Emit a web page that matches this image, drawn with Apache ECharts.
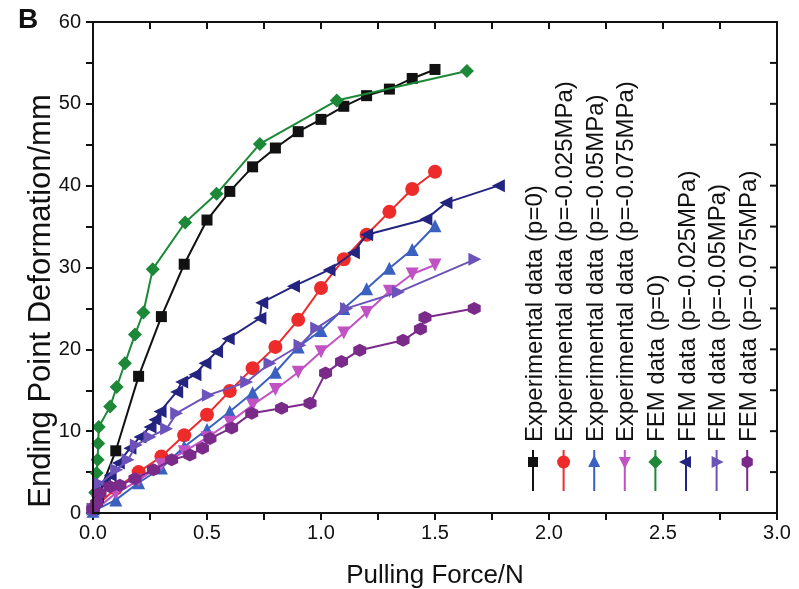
<!DOCTYPE html>
<html>
<head>
<meta charset="utf-8">
<script src="https://cdn.jsdelivr.net/npm/echarts@6/dist/echarts.min.js"></script>
<style>
  html, body { margin: 0; padding: 0; background: #fff; }
  #chart { width: 799px; height: 589px; }
</style>
</head>
<body>
<div id="chart"></div>
<script>
// data: [pulling force (N), deformation (mm)]
const expP0 = [[0, 0.5], [0.1, 7.6], [0.2, 16.7], [0.3, 24.0], [0.4, 30.4], [0.5, 35.8], [0.6, 39.3], [0.7, 42.3],
  [0.8, 44.6], [0.9, 46.6], [1.0, 48.1], [1.1, 49.7], [1.2, 51.0], [1.3, 51.8], [1.4, 53.1], [1.5, 54.2]]
const expP025 = [[0, 0.5], [0.1, 3.0], [0.2, 5.0], [0.3, 6.9], [0.4, 9.5], [0.5, 12.0], [0.6, 14.9], [0.7, 17.7],
  [0.8, 20.3], [0.9, 23.6], [1.0, 27.5], [1.1, 31.0], [1.2, 34.0], [1.3, 36.8], [1.4, 39.6], [1.5, 41.7]]
const expP05 = [[0, 0.2], [0.1, 1.6], [0.2, 3.7], [0.3, 5.5], [0.4, 8.1], [0.5, 10.2], [0.6, 12.4], [0.7, 14.7],
  [0.8, 17.2], [0.9, 20.3], [1.0, 22.3], [1.1, 25.0], [1.2, 27.4], [1.3, 29.9], [1.4, 32.2], [1.5, 35.1]]
const expP075 = [[0, 0.2], [0.1, 2.4], [0.2, 4.0], [0.3, 5.9], [0.4, 7.5], [0.5, 9.2], [0.6, 11.1], [0.7, 13.2],
  [0.8, 15.1], [0.9, 17.2], [1.0, 19.7], [1.1, 22.0], [1.2, 24.5], [1.3, 27.1], [1.4, 29.2], [1.5, 30.3]]
const femP0 = [[0, 0.5], [0.01, 2.5], [0.016, 4.9], [0.02, 6.5], [0.023, 8.5], [0.025, 10.5], [0.075, 13.0],
  [0.104, 15.4], [0.14, 18.3], [0.184, 21.8], [0.221, 24.5], [0.262, 29.8], [0.404, 35.5], [0.542, 39.0],
  [0.732, 45.1], [1.069, 50.4], [1.64, 54.0]]
const femP025 = [[0, 0.5], [0.02, 2.0], [0.05, 3.6], [0.075, 4.6], [0.111, 6.1], [0.162, 7.9], [0.206, 9.3],
  [0.25, 10.5], [0.272, 11.4], [0.294, 12.4], [0.367, 14.8], [0.389, 16.0], [0.447, 16.9], [0.491, 18.3],
  [0.542, 19.7], [0.593, 21.3], [0.732, 23.8], [0.74, 25.7], [0.879, 27.7], [1.035, 29.7], [1.142, 31.8],
  [1.2, 34.0], [1.46, 35.9], [1.548, 37.9], [1.778, 40.0]]
const femP05 = [[0, 0.5], [0.031, 3.6], [0.104, 5.3], [0.154, 6.5], [0.19, 8.3], [0.25, 9.3], [0.323, 10.3],
  [0.367, 12.2], [0.506, 14.4], [0.674, 16.0], [0.776, 18.3], [0.908, 20.5], [0.981, 22.6], [1.112, 25.0],
  [1.34, 27.0], [1.675, 31.0]]
const femP075 = [[0, 0.5], [0.016, 1.2], [0.031, 2.4], [0.075, 3.2], [0.118, 3.4], [0.184, 4.2], [0.265, 5.3],
  [0.345, 6.5], [0.425, 7.1], [0.48, 7.9], [0.513, 9.1], [0.608, 10.4], [0.696, 12.2], [0.827, 12.8],
  [0.952, 13.4], [1.02, 17.1], [1.09, 18.5], [1.17, 19.9], [1.36, 21.1], [1.436, 22.5], [1.456, 23.9],
  [1.672, 25.0]]

const names = ['Experimental data (p=0)', 'Experimental data (p=-0.025MPa)', 'Experimental data (p=-0.05MPa)',
  'Experimental data (p=-0.075MPa)', 'FEM data (p=0)', 'FEM data (p=-0.025MPa)', 'FEM data (p=-0.05MPa)',
  'FEM data (p=-0.075MPa)']
const seriesData = [expP0, expP025, expP05, expP075, femP0, femP025, femP05, femP075]
const colors = ['#111111', '#ee2b2b', '#3a60c0', '#c052c4', '#1c8838', '#23247f', '#6b53b9', '#7a2a88']

// tick values of the mirrored top / right frame
const topTicks = [0, 0.25, 0.5, 0.75, 1, 1.25, 1.5, 1.75, 2, 2.25, 2.5, 2.75, 3]
const rightTicks = [0, 5, 10, 15, 20, 25, 30, 35, 40, 45, 50, 55, 60]

const hexagon = 'path://M0,-10L8.66,-5L8.66,5L0,10L-8.66,5L-8.66,-5Z'
const symbols = ['rect', 'circle', 'triangle', 'triangle', 'diamond', 'triangle', 'triangle', hexagon]
const rotates = [0, 0, 0, 180, 0, 90, -90, 0]
const sizes = [11, 14, 13, 13, 14, 13, 13, 13]

const font = 'Liberation Sans, Arial, sans-serif'

// plot box (pixels)
const gLeft = 93, gTop = 22, gRight = 22, gBottom = 76
const W = 799, H = 589
const boxW = W - gLeft - gRight
const boxH = H - gTop - gBottom

let chart = echarts.init(document.getElementById('chart'))

// frame on top / right with inward ticks
let frame = [{
  type: 'rect', z: 100,
  shape: { x: gLeft, y: gTop, width: boxW, height: boxH },
  style: { fill: 'none', stroke: '#111', lineWidth: 2 }
}]
topTicks.forEach(v => {
  let x = gLeft + v / 3 * boxW
  frame.push({ type: 'line', z: 100, shape: { x1: x, y1: gTop, x2: x, y2: gTop + 7 }, style: { stroke: '#111', lineWidth: 2 } })
})
rightTicks.forEach(v => {
  let y = gTop + boxH - v / 60 * boxH
  frame.push({ type: 'line', z: 100, shape: { x1: gLeft + boxW, y1: y, x2: gLeft + boxW - 7, y2: y }, style: { stroke: '#111', lineWidth: 2 } })
})

// rotated legend drawn as graphic elements
let legendItems = []
names.forEach((name, i) => {
  let cx = 533 + i * 30.6
  let c = colors[i]
  legendItems.push({
    type: 'line', shape: { x1: cx, y1: 450, x2: cx, y2: 491 }, style: { stroke: c, lineWidth: 2 }
  })
  let s = 6
  let shape
  if (i === 0) shape = { type: 'rect', shape: { x: cx - 5, y: 457, width: 10, height: 10 } }
  else if (i === 1) shape = { type: 'circle', shape: { cx: cx, cy: 462, r: 6.5 } }
  else if (i === 2) shape = { type: 'polygon', shape: { points: [[cx, 462 - s - 1], [cx + s, 462 + s - 1], [cx - s, 462 + s - 1]] } }
  else if (i === 3) shape = { type: 'polygon', shape: { points: [[cx, 462 + s + 1], [cx + s, 462 - s + 1], [cx - s, 462 - s + 1]] } }
  else if (i === 4) shape = { type: 'polygon', shape: { points: [[cx, 455], [cx + 7, 462], [cx, 469], [cx - 7, 462]] } }
  else if (i === 5) shape = { type: 'polygon', shape: { points: [[cx - s - 1, 462], [cx + s - 1, 462 - s], [cx + s - 1, 462 + s]] } }
  else if (i === 6) shape = { type: 'polygon', shape: { points: [[cx + s + 1, 462], [cx - s + 1, 462 - s], [cx - s + 1, 462 + s]] } }
  else shape = { type: 'polygon', shape: { points: [[cx, 455.5], [cx + 5.6, 458.7], [cx + 5.6, 465.3], [cx, 468.5], [cx - 5.6, 465.3], [cx - 5.6, 458.7]] } }
  shape.style = { fill: c }
  legendItems.push(shape)
  legendItems.push({
    type: 'text',
    x: cx + 2,
    y: 442,
    rotation: Math.PI / 2,
    style: {
      text: name, fill: '#111', font: '24px ' + font,
      textAlign: 'left', textVerticalAlign: 'middle'
    }
  })
})

chart.setOption({
  animation: false,
  grid: { left: gLeft, right: gRight, top: gTop, bottom: gBottom, outerBoundsMode: 'none' },
  xAxis: {
    type: 'value', min: 0, max: 3, interval: 0.5,
    name: 'Pulling Force/N', nameLocation: 'middle', nameGap: 50,
    nameTextStyle: { fontSize: 26, color: '#111', fontFamily: font },
    axisLine: { show: true, onZero: false, lineStyle: { color: '#111', width: 2 } },
    axisTick: { show: true, inside: false, length: 7, lineStyle: { width: 2, color: '#111' } },
    minorTick: { show: true, splitNumber: 2, length: 7, lineStyle: { width: 2, color: '#111' } },
    axisLabel: { fontSize: 20, color: '#111', fontFamily: font, margin: 10, formatter: v => v.toFixed(1) },
    splitLine: { show: false }
  },
  yAxis: {
    type: 'value', min: 0, max: 60, interval: 10,
    axisLine: { show: true, onZero: false, lineStyle: { color: '#111', width: 2 } },
    axisTick: { show: true, inside: false, length: 7, lineStyle: { width: 2, color: '#111' } },
    minorTick: { show: true, splitNumber: 2, length: 7, lineStyle: { width: 2, color: '#111' } },
    axisLabel: { fontSize: 20, color: '#111', fontFamily: font, margin: 12 },
    splitLine: { show: false }
  },
  series: names.map((name, i) => ({
    name: name,
    type: 'line',
    data: seriesData[i],
    symbol: symbols[i],
    symbolSize: sizes[i],
    symbolRotate: rotates[i],
    showAllSymbol: true,
    lineStyle: { color: colors[i], width: 2 },
    itemStyle: { color: colors[i] },
    z: 2 + i
  })),
  graphic: [
    { type: 'text', x: 18, y: 6, style: { text: 'B', font: 'bold 28px ' + font, fill: '#111' } },
    {
      type: 'text', x: 41, y: 301, rotation: Math.PI / 2,
      style: {
        text: 'Ending Point Deformation/mm', font: '31px ' + font, fill: '#111',
        textAlign: 'center', textVerticalAlign: 'middle'
      }
    }
  ].concat(frame, legendItems)
})
</script>
</body>
</html>
